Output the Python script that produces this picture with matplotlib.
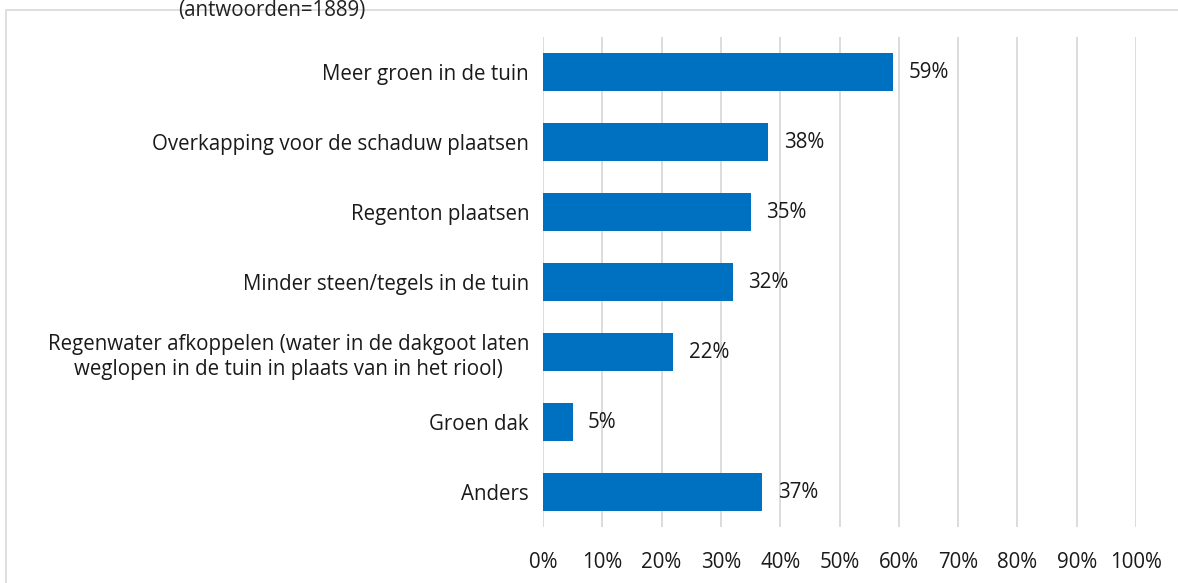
import numpy as np
import matplotlib.pyplot as plt
from matplotlib.patches import Rectangle

categories = [
    "Meer groen in de tuin",
    "Overkapping voor de schaduw plaatsen",
    "Regenton plaatsen",
    "Minder steen/tegels in de tuin",
    "Regenwater afkoppelen (water in de dakgoot laten\nweglopen in de tuin in plaats van in het riool)",
    "Groen dak",
    "Anders",
]
values = [59, 38, 35, 32, 22, 5, 37]
xticks = [0, 10, 20, 30, 40, 50, 60, 70, 80, 90, 100]
subtitle = "(antwoorden=1889)"

plt.rcParams['font.family'] = ['Open Sans', 'DejaVu Sans']
fs = 14.8

fig = plt.figure(figsize=(11.78, 5.83), dpi=100)
ax = fig.add_axes([543 / 1178, 1 - 527 / 583, (1136 - 543) / 1178, 490 / 583])

# chart border
fig.patches.append(Rectangle((6 / 1178, -0.1), 1.2, 1 - 10 / 583 + 0.1,
                             transform=fig.transFigure, fill=False,
                             edgecolor='#D9D9D9', linewidth=1.2))
fig.text(272 / 1178, 1.0, subtitle, ha='center', va='top', fontsize=fs, color='#222222')

y = np.arange(len(categories))
ax.barh(y, values, height=0.545, color='#0070C0', zorder=3)
for yi, v in zip(y, values):
    ax.annotate(f"{v}%", (v, yi), xytext=(11, 0), textcoords='offset points',
                va='center', ha='left', fontsize=fs, color='#1a1a1a')

ax.set_ylim(len(categories) - 0.5, -0.5)
ax.set_xlim(0, 100)
ax.set_xticks(xticks)
ax.set_xticklabels([f"{t}%" for t in xticks], fontsize=fs, color='#1a1a1a')
ax.set_yticks(y)
ax.set_yticklabels(categories, fontsize=fs, color='#1a1a1a', multialignment='center',
                   linespacing=1.3)
ax.tick_params(axis='y', length=0, pad=10)
ax.tick_params(axis='x', length=0, pad=18)

ax.grid(axis='x', color='#D9D9D9', linewidth=1.3, zorder=0)
for s in ax.spines.values():
    s.set_visible(False)

fig.savefig('out.png', dpi=100)
